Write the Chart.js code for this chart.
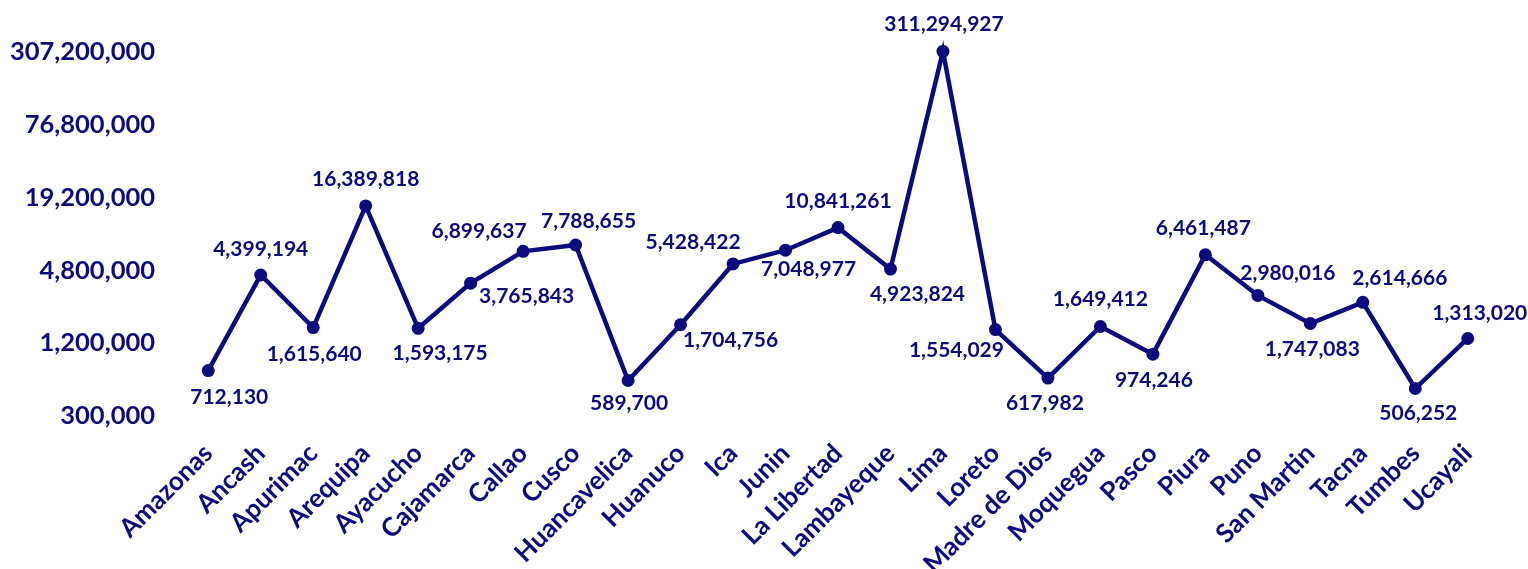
<!DOCTYPE html>
<html>
<head>
<meta charset="utf-8">
<script src="https://cdn.jsdelivr.net/npm/chart.js@4/dist/chart.umd.min.js"></script>
<style>
  html, body { margin: 0; padding: 0; background: #ffffff; }
  #wrap { position: relative; width: 1528px; height: 569px; }
</style>
</head>
<body>
<div id="wrap"><canvas id="c"></canvas></div>
<script>
// ---- data ----
const categories = ["Amazonas","Ancash","Apurimac","Arequipa","Ayacucho","Cajamarca","Callao","Cusco","Huancavelica","Huanuco","Ica","Junin","La Libertad","Lambayeque","Lima","Loreto","Madre de Dios","Moquegua","Pasco","Piura","Puno","San Martin","Tacna","Tumbes","Ucayali"];
const values = [712130,4399194,1615640,16389818,1593175,3765843,6899637,7788655,589700,1704756,5428422,7048977,10841261,4923824,311294927,1554029,617982,1649412,974246,6461487,2980016,1747083,2614666,506252,1313020];
const yTicks = [300000,1200000,4800000,19200000,76800000,307200000];

// ---- styling (label placement relative to each point, px) ----
const labelDx = [21,0,1,0,22,56,-44,13,1,50,-40,23,0,27,1,-39,-3,0,1,-2,30,2,37,3,12];
const labelDy = [27,-26,27,-27,25,13,-20,-24,23,15,-22,19,-26,25,-27,21,25,-27,26,-27,-22,26,-24,25,-25];

const NAVY = '#0b0b7e';
const FONT = 'Lato, "Open Sans", sans-serif';
const fmt = v => Number(v).toLocaleString('en-US');

const labelPlugin = {
  id: 'pointLabels',
  afterDatasetsDraw(chart) {
    const ctx = chart.ctx;
    const meta = chart.getDatasetMeta(0);
    ctx.save();
    ctx.font = 'bold 21px ' + FONT;
    ctx.fillStyle = NAVY;
    ctx.textAlign = 'center';
    ctx.textBaseline = 'middle';
    meta.data.forEach((pt, i) => {
      ctx.fillText(fmt(values[i]), pt.x + labelDx[i], pt.y + labelDy[i]);
    });
    ctx.restore();
  }
};

new Chart(document.getElementById('c'), {
  type: 'line',
  data: {
    labels: categories,
    datasets: [{
      data: values,
      borderColor: NAVY,
      backgroundColor: NAVY,
      borderWidth: 4.5,
      pointRadius: 6.5,
      pointHoverRadius: 6.5,
      pointBackgroundColor: NAVY,
      pointBorderColor: NAVY,
      pointBorderWidth: 0,
      tension: 0,
      clip: false
    }]
  },
  options: {
    responsive: true,
    maintainAspectRatio: false,
    animation: false,
    layout: { padding: { left: 0, right: 34, top: 52, bottom: 0 } },
    plugins: { legend: { display: false }, tooltip: { enabled: false } },
    scales: {
      x: {
        offset: true,
        grid: { display: false, drawTicks: false },
        border: { display: false },
        ticks: {
          autoSkip: false,
          maxRotation: 45,
          minRotation: 45,
          padding: 22,
          color: NAVY,
          font: { family: FONT, size: 26, weight: 'bold' }
        },
        afterFit(scale) { scale.height = 153; }
      },
      y: {
        type: 'logarithmic',
        min: 300000,
        max: 307200000,
        grid: { display: false, drawTicks: false },
        border: { display: false },
        afterBuildTicks(scale) { scale.ticks = yTicks.map(v => ({ value: v })); },
        ticks: {
          padding: 27,
          color: NAVY,
          font: { family: FONT, size: 25.5, weight: 'bold' },
          callback: v => fmt(v)
        },
        afterFit(scale) { scale.width = 182; }
      }
    }
  },
  plugins: [labelPlugin]
});
</script>
</body>
</html>
